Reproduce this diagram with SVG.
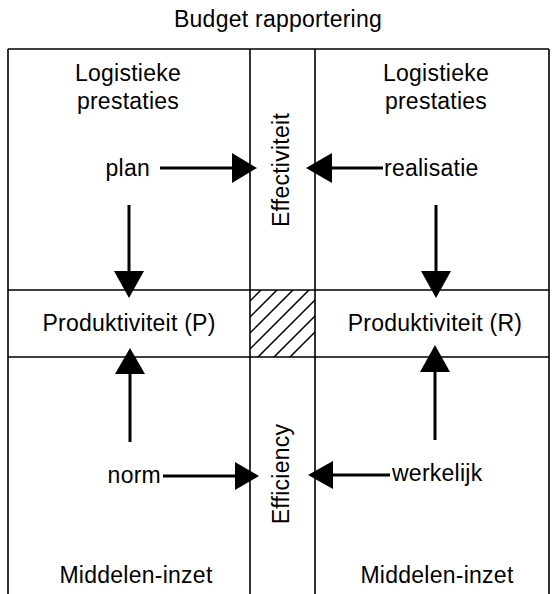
<svg xmlns="http://www.w3.org/2000/svg" width="554" height="594" viewBox="0 0 554 594">
<style>
.ln{stroke:#000;stroke-width:1.6;fill:none}
.ar{stroke:#000;stroke-width:3;fill:none}
.hd{fill:#000;stroke:none}
.t{font-family:"Liberation Sans",Arial,sans-serif;font-size:23px;fill:#000;letter-spacing:0.25px}
.m{text-anchor:middle}
.h{stroke:#000;stroke-width:1.5}
</style>
<defs>
<clipPath id="hc"><rect x="250" y="290" width="65" height="67"/></clipPath>
</defs>
<text class="t m" x="278" y="27">Budget rapportering</text>
<g id="grid">
<path class="ln" d="M8,49H549M8,49V594M549,49V594M250,49V594M315,49V594M8,290H549M8,357H549"/>
</g>
<g id="hatch" clip-path="url(#hc)">
<path class="h" d="M250,301L265,286M250,317L281,286M250,333L297,286M250,349L313,286M250,365L329,286M250,381L345,286M250,397L361,286"/>
</g>
<g id="n-log-p"><text class="t m" x="128" y="81">Logistieke</text><text class="t m" x="128" y="109">prestaties</text></g>
<g id="n-log-r"><text class="t m" x="436" y="81">Logistieke</text><text class="t m" x="436" y="109">prestaties</text></g>
<g id="n-plan"><text class="t" x="150" y="176" text-anchor="end">plan</text></g>
<g id="n-realisatie"><text class="t" x="384" y="176">realisatie</text></g>
<g id="n-eff"><text class="t m" transform="translate(289,170) rotate(-90)">Effectiviteit</text></g>
<g id="n-prod-p"><text class="t m" x="129" y="331">Produktiviteit (P)</text></g>
<g id="n-prod-r"><text class="t m" x="435" y="331">Produktiviteit (R)</text></g>
<g id="n-norm"><text class="t" x="161" y="483" text-anchor="end">norm</text></g>
<g id="n-werkelijk"><text class="t" x="392" y="481">werkelijk</text></g>
<g id="n-efficiency"><text class="t m" transform="translate(289,474) rotate(-90)">Efficiency</text></g>
<g id="n-mid-p"><text class="t m" x="136" y="583">Middelen-inzet</text></g>
<g id="n-mid-r"><text class="t m" x="437" y="583">Middelen-inzet</text></g>
<g id="connectors">
<path class="ar" d="M160,168H236"/><polygon class="hd" points="232,153 257,168 232,183"/>
<path class="ar" d="M383,168H328"/><polygon class="hd" points="332,153 306,168 332,183"/>
<path class="ar" d="M129,205V274"/><polygon class="hd" points="114,271 144,271 129,298"/>
<path class="ar" d="M436,205V274"/><polygon class="hd" points="421,271 451,271 436,298"/>
<path class="ar" d="M130,442V370"/><polygon class="hd" points="115,374 145,374 130,348"/>
<path class="ar" d="M435,440V368"/><polygon class="hd" points="420,372 450,372 435,345"/>
<path class="ar" d="M163,476H238"/><polygon class="hd" points="235,462 259,476 235,490"/>
<path class="ar" d="M390,475H329"/><polygon class="hd" points="333,461 308,475 333,489"/>
</g>
</svg>
